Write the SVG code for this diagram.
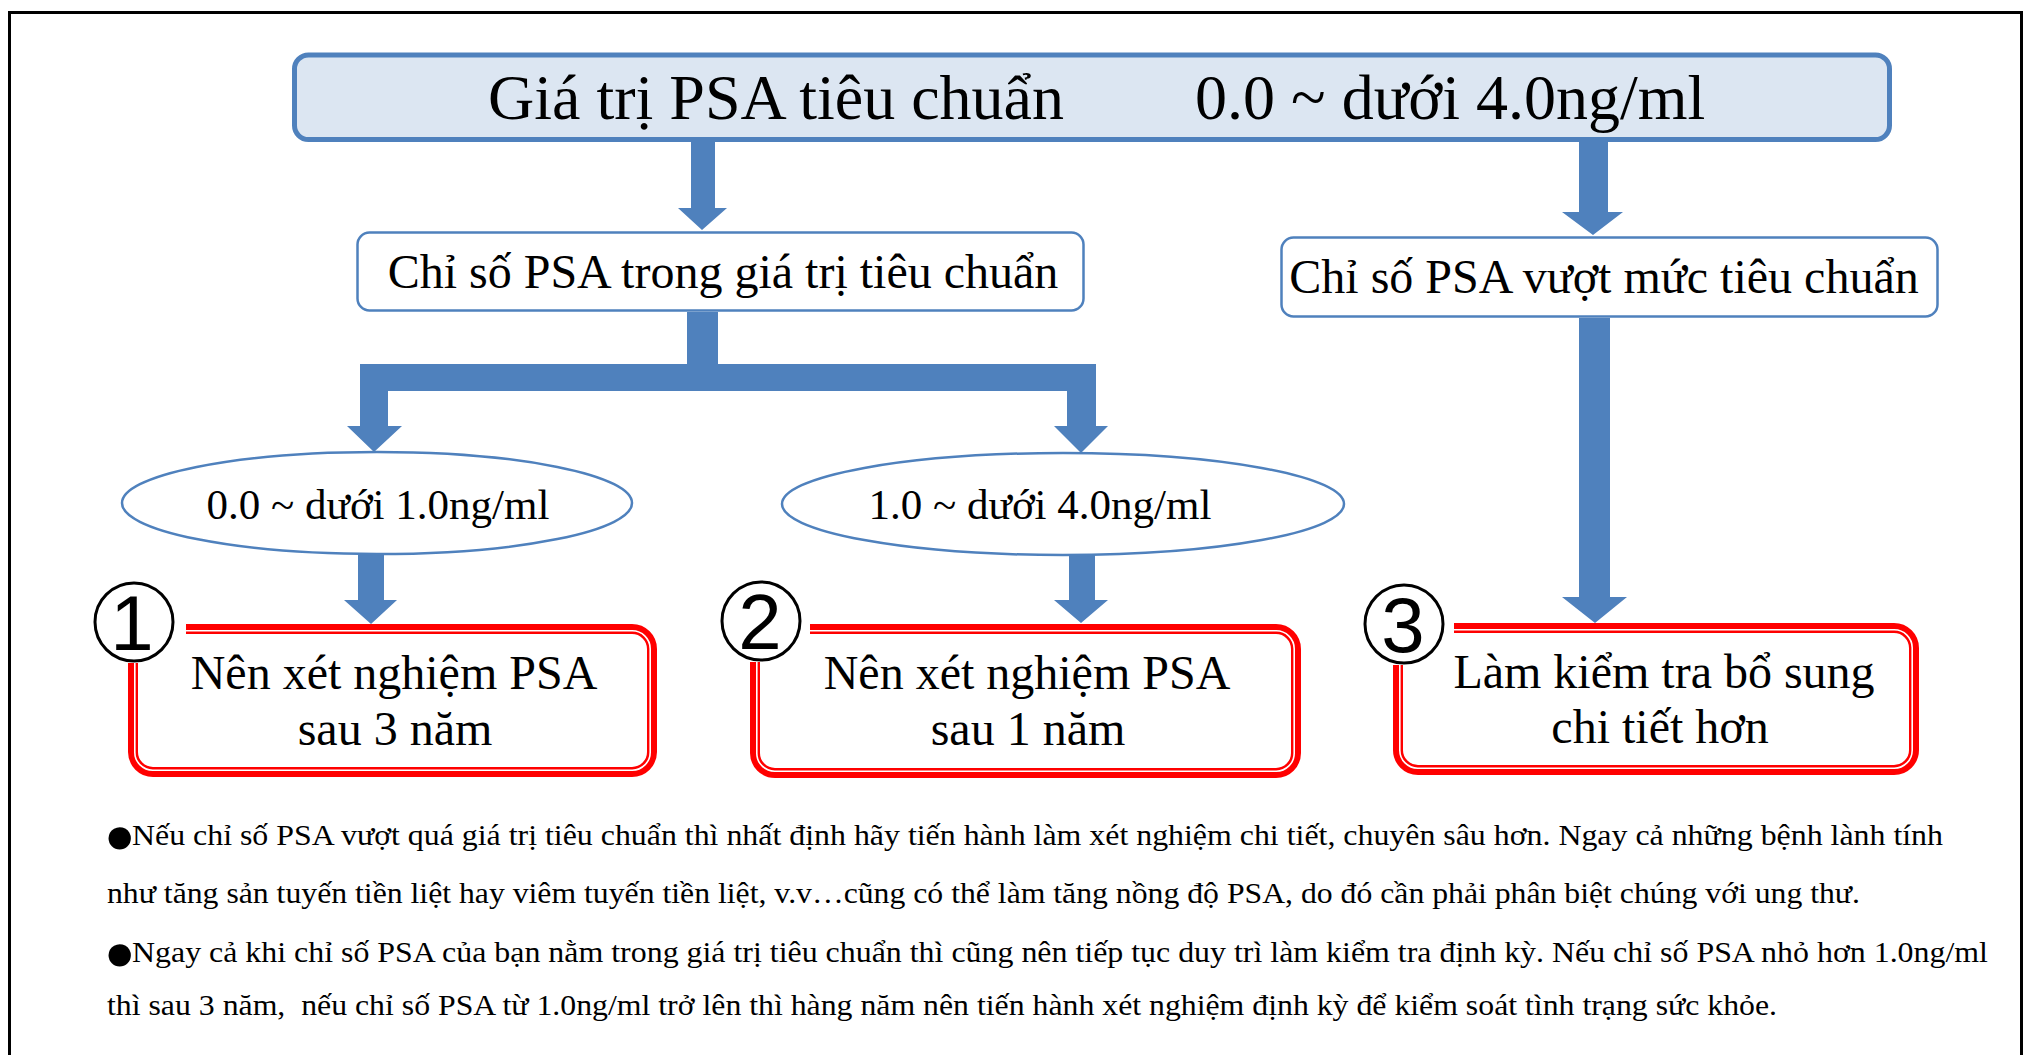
<svg xmlns="http://www.w3.org/2000/svg" width="2028" height="1055" viewBox="0 0 2028 1055">
<style>
  .t { font-family: "Liberation Serif", "Times New Roman", serif; fill: #000; }
  .bx { fill: #fff; stroke: #4F81BD; stroke-width: 2.5; }
  .ar { fill: #4F81BD; }
  .rd1 { fill: none; stroke: #FF0000; stroke-width: 10; }
  .rd2 { fill: none; stroke: #fff; stroke-width: 1.6; }
  .num { font-family: "Liberation Sans", Arial, sans-serif; font-size: 78px; fill: #000; }
  .note { font-family: "Liberation Serif", "Times New Roman", serif; font-size: 29px; fill: #000; white-space: pre; }
  .bul { font-family: "Liberation Serif", "Times New Roman", serif; font-size: 52px; fill: #000; }
</style>
<rect x="0" y="0" width="2028" height="1055" fill="#fff"/>
<rect x="9.5" y="12.5" width="2012" height="1100" fill="none" stroke="#000" stroke-width="3"/>

<g id="connectors">
  <polygon class="ar" points="691,142 715,142 715,208 727,208 702,230 678,208 691,208"/>
  <polygon class="ar" points="1579,142 1608,142 1608,212 1623,212 1593,235 1562,212 1579,212"/>
  <polygon class="ar" points="687,312 718,312 718,364 1096,364 1096,426 1108,426 1081,453 1054,426 1067,426 1067,391 388,391 388,426 402,426 374,452 347,426 360,426 360,364 687,364"/>
  <polygon class="ar" points="358,555 384,555 384,600 397,600 371,624 344,600 358,600"/>
  <polygon class="ar" points="1069,555 1095,555 1095,600 1108,600 1081,623 1054,600 1069,600"/>
  <polygon class="ar" points="1579,318 1610,318 1610,597 1627,597 1595,623 1562,597 1579,597"/>
</g>

<g id="n-top">
  <rect x="294.5" y="55" width="1595" height="84.5" rx="14" fill="#DCE6F2" stroke="#4F81BD" stroke-width="5"/>
  <text class="t" font-size="64" y="119"><tspan x="488">Giá trị PSA tiêu chuẩn</tspan><tspan x="1195">0.0 ~ dưới 4.0ng/ml</tspan></text>
</g>

<g id="n-within">
  <rect class="bx" x="357.5" y="232.5" width="726" height="78" rx="12"/>
  <text class="t" font-size="48" x="723" y="288" text-anchor="middle">Chỉ số PSA trong giá trị tiêu chuẩn</text>
</g>

<g id="n-over">
  <rect class="bx" x="1281.5" y="237.5" width="656" height="79" rx="12"/>
  <text class="t" font-size="48" x="1604" y="293" text-anchor="middle">Chỉ số PSA vượt mức tiêu chuẩn</text>
</g>

<g id="n-low">
  <ellipse class="bx" cx="377" cy="503" rx="255" ry="51"/>
  <text class="t" font-size="43" x="378" y="519" text-anchor="middle">0.0 ~ dưới 1.0ng/ml</text>
</g>

<g id="n-mid">
  <ellipse class="bx" cx="1063" cy="504" rx="281" ry="51"/>
  <text class="t" font-size="43" x="1040" y="519" text-anchor="middle">1.0 ~ dưới 4.0ng/ml</text>
</g>

<g id="n-r1">
  <rect class="rd1" x="133" y="629" width="519" height="143" rx="20"/>
  <rect class="rd2" x="134.8" y="630.8" width="515.4" height="139.4" rx="18"/>
  <rect x="80" y="576" width="106" height="87" fill="#fff"/>
  <circle cx="134" cy="622" r="39" fill="#fff" stroke="#000" stroke-width="3"/>
  <text class="num" x="132" y="650" text-anchor="middle">1</text>
  <text class="t" font-size="48" x="394" y="689" text-anchor="middle">Nên xét nghiệm PSA</text>
  <text class="t" font-size="48" x="395" y="745" text-anchor="middle">sau 3 năm</text>
</g>

<g id="n-r2">
  <rect class="rd1" x="755" y="629" width="541" height="144" rx="20"/>
  <rect class="rd2" x="756.8" y="630.8" width="537.4" height="140.4" rx="18"/>
  <rect x="707" y="575" width="103" height="87" fill="#fff"/>
  <circle cx="761" cy="621" r="39" fill="#fff" stroke="#000" stroke-width="3"/>
  <text class="num" x="760" y="649" text-anchor="middle">2</text>
  <text class="t" font-size="48" x="1027" y="689" text-anchor="middle">Nên xét nghiệm PSA</text>
  <text class="t" font-size="48" x="1028" y="745" text-anchor="middle">sau 1 năm</text>
</g>

<g id="n-r3">
  <rect class="rd1" x="1398" y="628" width="516" height="142" rx="20"/>
  <rect class="rd2" x="1399.8" y="629.8" width="512.4" height="138.4" rx="18"/>
  <rect x="1350" y="578" width="104" height="87" fill="#fff"/>
  <circle cx="1404" cy="624" r="39" fill="#fff" stroke="#000" stroke-width="3"/>
  <text class="num" x="1403" y="652" text-anchor="middle">3</text>
  <text class="t" font-size="48" x="1664" y="688" text-anchor="middle">Làm kiểm tra bổ sung</text>
  <text class="t" font-size="48" x="1660" y="743" text-anchor="middle">chi tiết hơn</text>
</g>

<g id="notes">
  <text class="bul" x="104" y="853">●</text>
  <text class="note" x="132" y="845" textLength="1811" lengthAdjust="spacingAndGlyphs">Nếu chỉ số PSA vượt quá giá trị tiêu chuẩn thì nhất định hãy tiến hành làm xét nghiệm chi tiết, chuyên sâu hơn. Ngay cả những bệnh lành tính</text>
  <text class="note" x="107" y="903" textLength="1753" lengthAdjust="spacingAndGlyphs">như tăng sản tuyến tiền liệt hay viêm tuyến tiền liệt, v.v…cũng có thể làm tăng nồng độ PSA, do đó cần phải phân biệt chúng với ung thư.</text>
  <text class="bul" x="104" y="970">●</text>
  <text class="note" x="132" y="962" textLength="1856" lengthAdjust="spacingAndGlyphs">Ngay cả khi chỉ số PSA của bạn nằm trong giá trị tiêu chuẩn thì cũng nên tiếp tục duy trì làm kiểm tra định kỳ. Nếu chỉ số PSA nhỏ hơn 1.0ng/ml</text>
  <text class="note" x="107" y="1015" textLength="1670" lengthAdjust="spacingAndGlyphs">thì sau 3 năm,  nếu chỉ số PSA từ 1.0ng/ml trở lên thì hàng năm nên tiến hành xét nghiệm định kỳ để kiểm soát tình trạng sức khỏe.</text>
</g>
</svg>
